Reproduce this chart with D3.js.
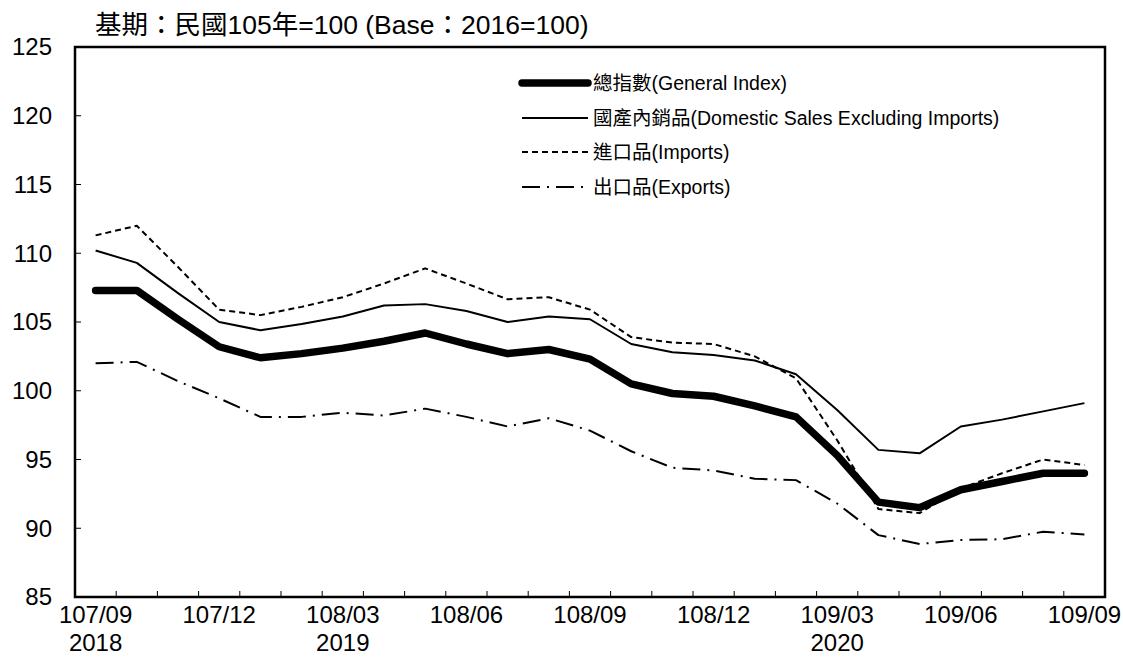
<!DOCTYPE html>
<html>
<head>
<meta charset="utf-8">
<script src="https://cdn.jsdelivr.net/npm/d3@7"></script>
<style>
  html, body { margin: 0; padding: 0; background: #fff; }
  svg { display: block; }
  text { font-family: "Liberation Sans", Arial, "Noto Sans CJK TC", sans-serif; fill: #000; }
</style>
</head>
<body>
<svg id="chart" width="1123" height="659"></svg>
<script>
const months = ["107/09","107/10","107/11","107/12","108/01","108/02","108/03","108/04","108/05","108/06","108/07","108/08","108/09","108/10","108/11","108/12","109/01","109/02","109/03","109/04","109/05","109/06","109/07","109/08","109/09"];
const tickLabels = ["107/09","107/12","108/03","108/06","108/09","108/12","109/03","109/06","109/09"];
const yearLabels = {"107/09":"2018","108/03":"2019","109/03":"2020"};
const yTicks = [85,90,95,100,105,110,115,120,125];

const generalIndex = [107.3,107.3,105.2,103.2,102.4,102.7,103.1,103.6,104.2,103.4,102.7,103.0,102.3,100.5,99.8,99.6,98.9,98.1,95.3,91.9,91.5,92.8,93.4,94.0,94.0];
const domesticSales = [110.2,109.3,107.1,105.0,104.4,104.85,105.4,106.2,106.3,105.8,105.0,105.4,105.2,103.4,102.8,102.6,102.2,101.2,98.6,95.7,95.45,97.4,97.9,98.5,99.1];
const imports = [111.3,112.0,109.0,105.9,105.5,106.1,106.8,107.8,108.9,107.8,106.65,106.8,105.9,103.9,103.5,103.4,102.5,100.9,96.4,91.4,91.1,92.9,94.0,95.0,94.6];
const exportsIdx = [102.0,102.1,100.7,99.45,98.1,98.1,98.4,98.2,98.7,98.1,97.4,98.0,97.1,95.6,94.4,94.2,93.6,93.5,91.8,89.5,88.85,89.15,89.2,89.75,89.55];

const seriesNames = ["總指數(General Index)","國產內銷品(Domestic Sales Excluding Imports)","進口品(Imports)","出口品(Exports)"];
const titleText = "基期：民國105年=100 (Base：2016=100)";

const svg = d3.select("#chart");
const L = 75, R = 1105, T = 47, B = 597;

const x = d3.scaleBand().domain(months).range([L, R]).paddingInner(0).paddingOuter(0);
const xc = d => x(d) + x.bandwidth() / 2;
const y = d3.scaleLinear().domain([85, 125]).range([B, T]);

const styles = [
  {data: generalIndex, width: 7.5, dash: null, cap: "round"},
  {data: domesticSales, width: 2, dash: null, cap: "butt"},
  {data: imports, width: 2, dash: "6,4", cap: "butt"},
  {data: exportsIdx, width: 2, dash: "18,7,2,7", cap: "butt"}
];

// title
svg.append("text").attr("x", 95).attr("y", 34).attr("font-size", 26.5).text(titleText);

// y axis tick labels
svg.append("g").selectAll("text").data(yTicks).join("text")
  .attr("x", 52).attr("y", d => y(d)).attr("dy", "0.35em")
  .attr("text-anchor", "end").attr("font-size", 24).text(d => d);

// y ticks (inward)
svg.append("g").selectAll("line").data(yTicks.filter(d => d > 85 && d < 125)).join("line")
  .attr("x1", L).attr("x2", L + 6).attr("y1", d => y(d)).attr("y2", d => y(d))
  .attr("stroke", "#000").attr("stroke-width", 1);

// x ticks at band boundaries (inward)
svg.append("g").selectAll("line").data(months.slice(1)).join("line")
  .attr("x1", d => x(d)).attr("x2", d => x(d)).attr("y1", B).attr("y2", B - 6)
  .attr("stroke", "#000").attr("stroke-width", 1);

// x labels
const xl = svg.append("g");
xl.selectAll("text.m").data(tickLabels).join("text").attr("class", "m")
  .attr("x", d => xc(d)).attr("y", 623).attr("text-anchor", "middle").attr("font-size", 24).text(d => d);
xl.selectAll("text.yr").data(Object.keys(yearLabels)).join("text").attr("class", "yr")
  .attr("x", d => xc(d)).attr("y", 651).attr("text-anchor", "middle").attr("font-size", 24).text(d => yearLabels[d]);

// lines
const line = d3.line().x((d, i) => xc(months[i])).y(d => y(d));
styles.forEach(s => {
  svg.append("path").attr("d", line(s.data)).attr("fill", "none")
    .attr("stroke", "#000").attr("stroke-width", s.width)
    .attr("stroke-dasharray", s.dash).attr("stroke-linecap", s.cap)
    .attr("stroke-linejoin", "round");
});

// frame
svg.append("rect").attr("x", L).attr("y", T).attr("width", R - L).attr("height", B - T)
  .attr("fill", "none").attr("stroke", "#000").attr("stroke-width", 2.5);

// legend
const lg = svg.append("g");
const legY = [83, 118, 152, 187];
styles.forEach((s, i) => {
  lg.append("line").attr("x1", 522).attr("x2", 588).attr("y1", legY[i]).attr("y2", legY[i])
    .attr("stroke", "#000").attr("stroke-width", s.width)
    .attr("stroke-dasharray", s.dash).attr("stroke-linecap", s.cap);
  lg.append("text").attr("x", 593).attr("y", legY[i]).attr("dy", "0.35em")
    .attr("font-size", 19.5).text(seriesNames[i]);
});
</script>
</body>
</html>
